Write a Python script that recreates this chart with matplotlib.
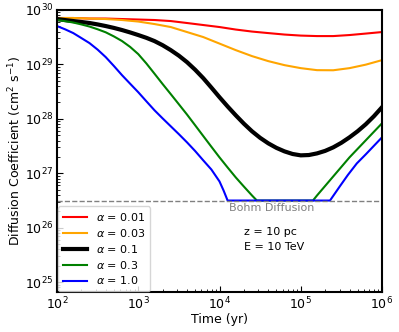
import numpy as np
import matplotlib
matplotlib.use("Agg")
import matplotlib.pyplot as plt

labels = [r"$\alpha$ = 0.01", r"$\alpha$ = 0.03", r"$\alpha$ = 0.1", r"$\alpha$ = 0.3", r"$\alpha$ = 1.0"]
colors = ["red", "orange", "black", "green", "blue"]
widths = [1.5, 1.5, 3.0, 1.5, 1.5]

bohm = 10**26.5

# log10(time [yr]) and log10(D [cm^2/s])
t_grid = [2.0, 2.2, 2.4, 2.6, 2.8, 3.0, 3.2, 3.4, 3.6, 3.8, 4.0,
          4.2, 4.4, 4.6, 4.8, 5.0, 5.2, 5.4, 5.6, 5.8, 6.0]

d_red = [29.853, 29.853, 29.843, 29.843, 29.834, 29.825, 29.816, 29.797, 29.761, 29.724, 29.687,
         29.641, 29.604, 29.576, 29.549, 29.530, 29.521, 29.521, 29.540, 29.567, 29.595]

d_orange = [29.853, 29.853, 29.843, 29.834, 29.816, 29.788, 29.742, 29.687, 29.595, 29.503, 29.383,
            29.263, 29.153, 29.061, 28.987, 28.932, 28.895, 28.893, 28.932, 28.996, 29.079]

t_black = [2.0, 2.1, 2.2, 2.3, 2.4, 2.5, 2.6, 2.7, 2.8, 2.9, 3.0, 3.1, 3.2, 3.3, 3.4, 3.5, 3.6, 3.7,
           3.8, 3.9, 4.0, 4.1, 4.2, 4.3, 4.4, 4.5, 4.6, 4.7, 4.8, 4.9, 5.0, 5.1, 5.2, 5.3, 5.4,
           5.5, 5.6, 5.7, 5.8, 5.9, 6.0]
d_black = [29.834, 29.815, 29.797, 29.780, 29.761, 29.735, 29.705, 29.671, 29.632, 29.588, 29.540,
           29.489, 29.429, 29.353, 29.263, 29.161, 29.042, 28.903, 28.748, 28.575, 28.398, 28.228,
           28.066, 27.912, 27.772, 27.652, 27.551, 27.468, 27.403, 27.355, 27.330, 27.336, 27.366,
           27.412, 27.477, 27.561, 27.661, 27.773, 27.901, 28.048, 28.214]

t_green = [2.0, 2.1, 2.2, 2.3, 2.4, 2.5, 2.6, 2.7, 2.8, 2.9, 3.0, 3.1, 3.2, 3.3, 3.4, 3.5, 3.6,
           3.7, 3.8, 3.9, 4.0, 4.1, 4.2, 4.3, 4.4, 4.46, 5.15, 5.2, 5.4, 5.6, 5.8, 6.0]
d_green = [29.816, 29.795, 29.770, 29.735, 29.696, 29.646, 29.590, 29.515, 29.430, 29.322, 29.190,
           29.018, 28.830, 28.640, 28.455, 28.268, 28.080, 27.883, 27.685, 27.488, 27.293, 27.107,
           26.925, 26.757, 26.593, 26.500, 26.500, 26.593, 26.943, 27.293, 27.606, 27.919]

t_blue = [2.0, 2.1, 2.2, 2.28, 2.4, 2.5, 2.6, 2.7, 2.8, 2.9, 3.0, 3.1, 3.2, 3.3, 3.4, 3.5, 3.6,
          3.7, 3.8, 3.9, 4.0, 4.05, 4.10, 5.36, 5.48, 5.58, 5.69, 5.8, 6.0]
d_blue = [29.705, 29.645, 29.576, 29.503, 29.392, 29.272, 29.134, 28.972, 28.803, 28.646, 28.490,
          28.323, 28.158, 28.009, 27.864, 27.719, 27.569, 27.410, 27.238, 27.070, 26.851, 26.685,
          26.500, 26.500, 26.759, 26.970, 27.182, 27.348, 27.661]

series = [(t_grid, d_red), (t_grid, d_orange), (t_black, d_black), (t_green, d_green), (t_blue, d_blue)]

plt.rcParams['font.family'] = ['DejaVu Sans']
fig = plt.figure(figsize=(3.99, 3.32), dpi=100)
ax = fig.add_axes([57/399, 40/332, 325/399, 282/332])

for (t, d), c, w, lab in zip(series, colors, widths, labels):
    ax.plot(10**np.array(t), 10**np.array(d), color=c, lw=w, label=lab,
            solid_joinstyle='round')

ax.axhline(bohm, color='gray', ls='--', lw=1.0)
ax.text(10**4.115, bohm * 0.9, "Bohm Diffusion", color='gray', fontsize=8, ha='left', va='top')
ax.text(10**4.3, 10**25.93, "z = 10 pc", fontsize=8, ha='left', va='center')
ax.text(10**4.3, 10**25.64, "E = 10 TeV", fontsize=8, ha='left', va='center')

ax.set_xscale('log')
ax.set_yscale('log')
ax.set_xlim(1e2, 1e6)
ax.set_ylim(10**24.82, 1e30)
ax.set_xlabel("Time (yr)", fontsize=9, labelpad=1)
ax.set_ylabel(r"Diffusion Coefficient (cm$^2$ s$^{-1}$)", fontsize=9, labelpad=1)
ax.tick_params(which='both', direction='in', top=False, right=False, labelsize=9)
ax.tick_params(which='major', length=4, pad=2.5)
ax.tick_params(which='minor', length=2)
for s in ax.spines.values():
    s.set_linewidth(1.5)

ax.legend(loc='lower left', fontsize=8, handlelength=2.2, borderaxespad=0.1, labelspacing=0.35)

fig.savefig("out.png", dpi=100)
